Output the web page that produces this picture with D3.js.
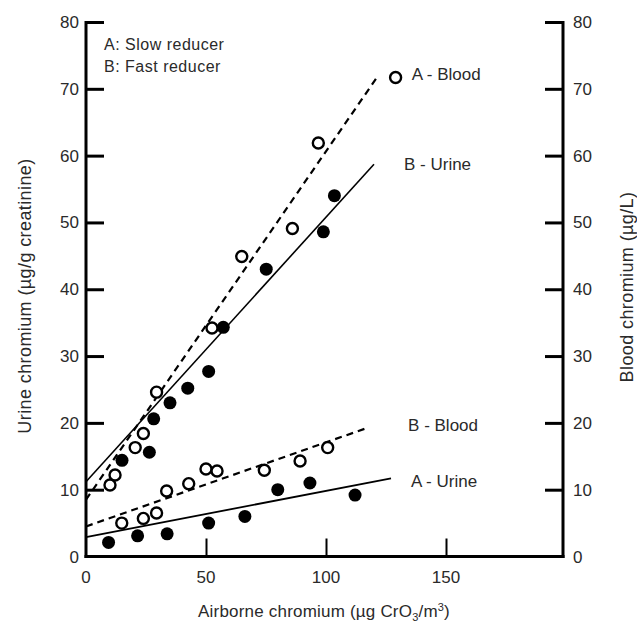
<!DOCTYPE html>
<html><head><meta charset="utf-8">
<script src="https://cdn.jsdelivr.net/npm/d3@7"></script>
<style>body{margin:0;background:#fff}text{font-family:"Liberation Sans",Arial,sans-serif;fill:#2a2a2a}</style>
</head><body><svg id="c" width="637" height="622"></svg>
<script>
// Data (airborne chromium, value)
const aBlood = [[10,10.7],[12.1,12.2],[20.5,16.3],[23.9,18.4],[29.4,24.6],[52.5,34.2],[64.9,44.9],[86,49.1],[96.8,61.9],[129,71.7]];
const bUrine = [[15,14.4],[26.4,15.6],[28.2,20.6],[35,23.0],[42.4,25.2],[51.1,27.7],[57.2,34.3],[75.1,43.0],[98.9,48.6],[103.5,54.0]];
const bBlood = [[14.9,5.0],[23.9,5.7],[29.4,6.5],[33.6,9.8],[42.8,10.9],[50,13.1],[54.6,12.8],[74.3,12.9],[89.2,14.3],[100.7,16.3]];
const aUrine = [[9.4,2.1],[21.5,3.1],[33.8,3.4],[51.1,5.0],[66.2,6.0],[79.9,10.0],[93.3,11.0],[112.1,9.2]];
// regression lines: [x0,y0],[x1,y1]
const aBloodLine = [[0,8.5],[121.4,71.8]];
const bUrineLine = [[0,11.2],[120,58.7]];
const bBloodLine = [[0,4.5],[117.6,19.3]];
const aUrineLine = [[0,2.9],[127.1,11.7]];
const yTicks = [0,10,20,30,40,50,60,70,80];
const xTicks = [0,50,100,150];
const xTickMarks = [50,100,150];
const seriesLabels = [["A - Blood",135.7,71.3],["B - Urine",132.5,57.9],["B - Blood",134.2,18.8],["A - Urine",135.4,10.4]];
const legendLines = ["A: Slow reducer","B: Fast reducer"];

const svg = d3.select("#c");
const x = d3.scaleLinear().domain([0,198.75]).range([86,563]);
const y = d3.scaleLinear().domain([0,80]).range([556.5,22]);

// axes lines
const g = svg.append("g");
g.append("line").attr("x1",x(0)).attr("x2",x(0)).attr("y1",y(80)-1).attr("y2",y(0)+1.5).attr("stroke","#000").attr("stroke-width",3);
g.append("line").attr("x1",x(198.75)).attr("x2",x(198.75)).attr("y1",y(80)-1).attr("y2",y(0)+1.5).attr("stroke","#000").attr("stroke-width",3);
g.append("line").attr("x1",x(0)-1.5).attr("x2",x(198.75)+1.5).attr("y1",y(0)).attr("y2",y(0)).attr("stroke","#000").attr("stroke-width",3);

// ticks (inward)
const ly = d3.axisRight(y).tickValues(yTicks.filter(d=>d>0)).tickSize(18).tickFormat("");
svg.append("g").attr("transform",`translate(${x(0)},0)`).call(ly)
  .call(s=>{s.select(".domain").remove();s.selectAll("line").attr("stroke","#000").attr("stroke-width",3);});
const ry = d3.axisLeft(y).tickValues(yTicks.filter(d=>d>0)).tickSize(18).tickFormat("");
svg.append("g").attr("transform",`translate(${x(198.75)},0)`).call(ry)
  .call(s=>{s.select(".domain").remove();s.selectAll("line").attr("stroke","#000").attr("stroke-width",3);});
const bx = d3.axisTop(x).tickValues(xTickMarks).tickSize(18).tickFormat("");
svg.append("g").attr("transform",`translate(0,${y(0)})`).call(bx)
  .call(s=>{s.select(".domain").remove();s.selectAll("line").attr("stroke","#000").attr("stroke-width",2);});

// tick labels
svg.append("g").selectAll("text").data(yTicks).join("text")
  .attr("x",79).attr("y",d=>y(d)+6).attr("text-anchor","end").attr("font-size",17).text(d=>d);
svg.append("g").selectAll("text").data(yTicks).join("text")
  .attr("x",573).attr("y",d=>y(d)+6).attr("text-anchor","start").attr("font-size",17).text(d=>d);
svg.append("g").selectAll("text").data(xTicks).join("text")
  .attr("x",d=>x(d)).attr("y",583).attr("text-anchor","middle").attr("font-size",17).text(d=>d);

// axis titles
svg.append("text").attr("transform","translate(31,296) rotate(-90)").attr("text-anchor","middle").attr("font-size",18).attr("letter-spacing",0.4).text("Urine chromium (µg/g creatinine)");
svg.append("text").attr("transform","translate(633,287) rotate(-90)").attr("text-anchor","middle").attr("font-size",18).attr("letter-spacing",0.4).text("Blood chromium (µg/L)");
const xt = svg.append("text").attr("x",324).attr("y",617).attr("text-anchor","middle").attr("font-size",17).attr("letter-spacing",0.2);
xt.append("tspan").text("Airborne chromium (µg CrO");
xt.append("tspan").attr("font-size",11).attr("dy",4).text("3");
xt.append("tspan").attr("dy",-4).text("/m");
xt.append("tspan").attr("font-size",11).attr("dy",-6).text("3");
xt.append("tspan").attr("dy",6).text(")");

// legend
svg.append("g").selectAll("text").data(legendLines).join("text")
  .attr("x",104).attr("y",(d,i)=>50+i*22).attr("font-size",16).attr("letter-spacing",0.5).text(d=>d);

// lines
const line = d3.line().x(d=>x(d[0])).y(d=>y(d[1]));
svg.append("path").attr("d",line(aBloodLine)).attr("fill","none").attr("stroke","#000").attr("stroke-width",2.2).attr("stroke-dasharray","7,5");
svg.append("path").attr("d",line(bBloodLine)).attr("fill","none").attr("stroke","#000").attr("stroke-width",2.2).attr("stroke-dasharray","7,5");
svg.append("path").attr("d",line(bUrineLine)).attr("fill","none").attr("stroke","#000").attr("stroke-width",1.6);
svg.append("path").attr("d",line(aUrineLine)).attr("fill","none").attr("stroke","#000").attr("stroke-width",1.8);

// points
function open(data){svg.append("g").selectAll("circle").data(data).join("circle")
  .attr("cx",d=>x(d[0])).attr("cy",d=>y(d[1])).attr("r",5.5).attr("fill","#fff").attr("stroke","#000").attr("stroke-width",2.4);}
function filled(data){svg.append("g").selectAll("circle").data(data).join("circle")
  .attr("cx",d=>x(d[0])).attr("cy",d=>y(d[1])).attr("r",6.5).attr("fill","#000");}
open(aBlood); filled(bUrine); open(bBlood); filled(aUrine);

// series labels
svg.append("g").selectAll("text").data(seriesLabels).join("text")
  .attr("x",d=>x(d[1])).attr("y",d=>y(d[2])).attr("font-size",17).text(d=>d[0]);
</script></body></html>
